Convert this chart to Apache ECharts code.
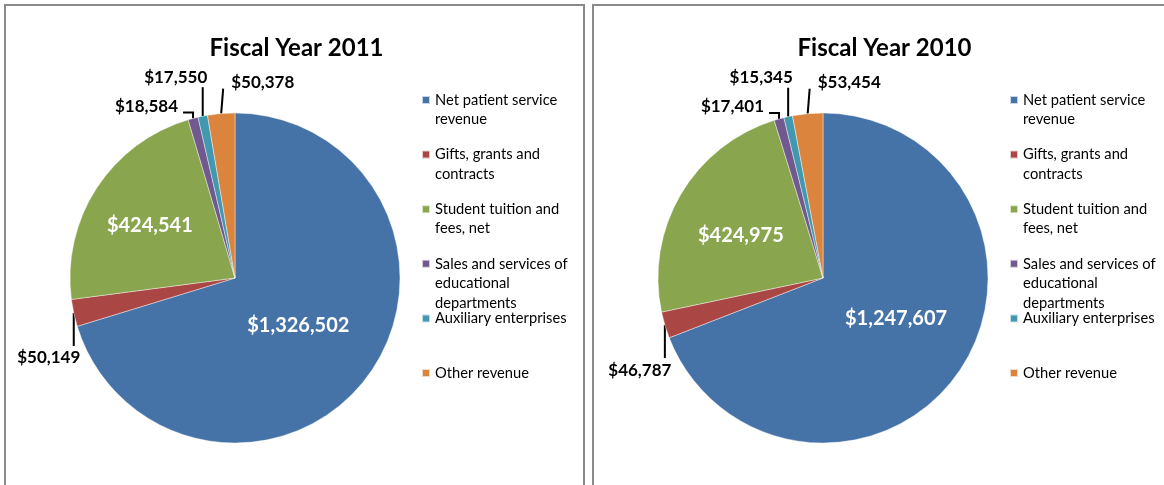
<!DOCTYPE html>
<html>
<head>
<meta charset="utf-8">
<script src="https://cdn.jsdelivr.net/npm/echarts@6/dist/echarts.min.js"></script>
<style>
  html, body { margin: 0; padding: 0; background: #fff; }
  #chart { width: 1164px; height: 485px; }
</style>
</head>
<body>
<div id="chart"></div>
<script>
  // slice order = legend order, clockwise from 12 o'clock
  var categories = [
    'Net patient service revenue',
    'Gifts, grants and contracts',
    'Student tuition and fees, net',
    'Sales and services of educational departments',
    'Auxiliary enterprises',
    'Other revenue'
  ];
  // legend text as wrapped in the original
  var legendText = [
    ['Net patient service', 'revenue'],
    ['Gifts, grants and', 'contracts'],
    ['Student tuition and', 'fees, net'],
    ['Sales and services of', 'educational', 'departments'],
    ['Auxiliary enterprises'],
    ['Other revenue']
  ];
  var titles = ['Fiscal Year 2011', 'Fiscal Year 2010'];
  var values2011 = [1326502, 50149, 424541, 18584, 17550, 50378];
  var values2010 = [1247607, 46787, 424975, 17401, 15345, 53454];

  var colors = ['#4572A7', '#AA4643', '#89A54E', '#71588F', '#4198AF', '#DB843D'];
  var panelValues = [values2011, values2010];
  var panelLeft = [5, 593];
  var panelWidth = 579;
  var pieRadius = 165;
  var pieCenterY = 278;
  var isInside = [true, false, true, false, false, false];

  // leader lines / label offsets relative to the slice edge point
  var leader = {
    1: { line: [[0, 33]], label: [-25, 45], align: 'center' },
    3: { line: [[0, -6], [-10, -6]], label: [-15, -12], align: 'right' },
    4: { line: [[0, -29]], label: [-27, -39], align: 'center' },
    5: { line: [[2, -25]], label: [10, -31], align: 'left' }
  };
  // inside label shift from the half-radius point
  var insideShift = [
    { 0: [-3, -2], 2: [-16, -7] },
    { 0: [5, -6], 2: [-11, -1] }
  ];

  function money(v) {
    return '$' + v.toLocaleString('en-US');
  }

  function edgePoint(vals, i, cx, cy, r) {
    var total = 0, before = 0;
    vals.forEach(function (v, k) {
      total += v;
      if (k < i) before += v;
    });
    var t = (before + vals[i] / 2) / total * Math.PI * 2;
    return [cx + r * Math.sin(t), cy - r * Math.cos(t)];
  }

  function pieCenterX(p) {
    return panelLeft[p] + 230;
  }

  function makeLayout(p) {
    var vals = panelValues[p];
    var cx = pieCenterX(p);
    return function (params) {
      var i = params.dataIndex;
      if (isInside[i]) {
        var m = edgePoint(vals, i, cx, pieCenterY, pieRadius / 2);
        var s = insideShift[p][i];
        return { x: m[0] + s[0], y: m[1] + s[1], align: 'center', verticalAlign: 'middle' };
      }
      var a = edgePoint(vals, i, cx, pieCenterY, pieRadius);
      var o = leader[i];
      var pts = [a].concat(o.line.map(function (d) { return [a[0] + d[0], a[1] + d[1]]; }));
      return {
        x: a[0] + o.label[0],
        y: a[1] + o.label[1],
        align: o.align,
        verticalAlign: 'middle',
        labelLinePoints: pts
      };
    };
  }

  function legendFormatter(name) {
    var lines = legendText[categories.indexOf(name)];
    // pad so the first line sits level with the square
    var out = ['', ''].concat(lines);
    while (out.length < 5) out.push('');
    return out.join('\n');
  }

  var fontFamily = 'Lato, "Noto Sans", sans-serif';
  var lineH = 19.5;

  var myChart = echarts.init(document.getElementById('chart'));

  var option = {
    animation: false,
    color: colors,
    title: [],
    legend: [],
    series: [],
    graphic: []
  };

  [0, 1].forEach(function (p) {
    var vals = panelValues[p];
    option.graphic.push({
      type: 'rect',
      shape: { x: panelLeft[p], y: 5, width: panelWidth, height: 520 },
      style: { fill: 'none', stroke: '#8a8a8a', lineWidth: 2 },
      silent: true
    });
    option.title.push({
      text: titles[p],
      left: panelLeft[p] + panelWidth / 2 - 3,
      top: 31,
      textAlign: 'center',
      textStyle: { fontFamily: fontFamily, fontSize: 24, fontWeight: 'bold', color: '#000' }
    });
    option.legend.push({
      orient: 'vertical',
      left: panelLeft[p] + 416,
      top: 100 - lineH * 2.5,
      padding: 0,
      itemWidth: 8,
      itemHeight: 8,
      itemGap: 54.6 - lineH * 5,
      icon: 'rect',
      selectedMode: false,
      data: categories,
      formatter: legendFormatter,
      textStyle: { fontFamily: fontFamily, fontSize: 14.7, color: '#000', lineHeight: lineH }
    });
    option.series.push({
      type: 'pie',
      name: titles[p],
      center: [pieCenterX(p), pieCenterY],
      radius: pieRadius,
      startAngle: 90,
      clockwise: true,
      avoidLabelOverlap: false,
      emphasis: { scale: false },
      itemStyle: { borderColor: 'rgba(255,255,255,0.7)', borderWidth: 0.6 },
      label: {
        fontFamily: fontFamily,
        fontWeight: 'bold',
        formatter: function (d) { return money(d.value); }
      },
      labelLine: { lineStyle: { color: '#000', width: 2 } },
      labelLayout: makeLayout(p),
      data: vals.map(function (v, i) {
        return {
          name: categories[i],
          value: v,
          label: {
            position: isInside[i] ? 'inside' : 'outside',
            color: isInside[i] ? '#fff' : '#000',
            fontFamily: fontFamily,
            fontWeight: 'bold',
            fontSize: isInside[i] ? 20 : 17
          },
          labelLine: { show: !isInside[i], length: 10, length2: 0 }
        };
      })
    });
  });

  myChart.setOption(option);
</script>
</body>
</html>
